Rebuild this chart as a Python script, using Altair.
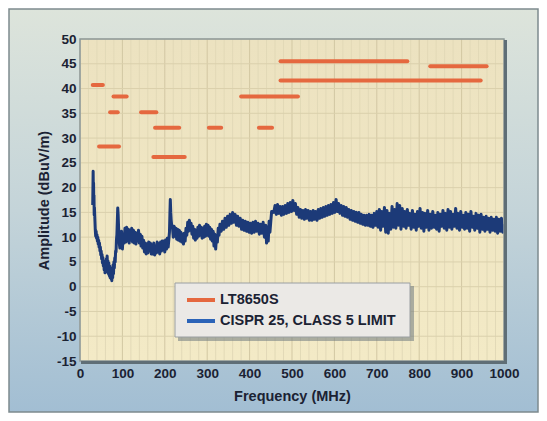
import altair as alt
import pandas as pd

# ---------------- data ----------------
series_names = ["LT8650S", "CISPR 25, CLASS 5 LIMIT"]

# orange horizontal segments (MHz start, MHz end, dBuV/m)
seg_start = [30, 45, 79, 71, 144, 177, 173, 304, 422, 380, 473, 473, 826]
seg_end   = [54, 92, 110, 89, 180, 234, 247, 333, 453, 514, 772, 945, 959]
seg_level = [40.7, 28.3, 38.4, 35.2, 35.2, 32.1, 26.2, 32.1, 32.1, 38.4, 45.5, 41.6, 44.5]

# blue measured trace (MHz, dBuV/m)
trace_f = [
    30, 31, 31.5, 32, 32.5, 33, 33.5, 34, 35,
    36, 37, 38, 39, 40, 41, 42, 43, 44, 45, 46, 47, 48, 49, 50, 51, 52, 53, 54, 55,
    56, 57, 58, 59, 60, 61, 62, 63, 64, 65, 66, 67, 68, 69, 70, 71, 72, 73, 74, 75,
    76, 77, 78, 79, 80, 81, 82, 83, 84, 85, 86, 87, 88, 89, 90, 91, 92, 93, 94, 95,
    96, 98, 100, 102, 104, 106, 108, 110, 112, 114, 116, 118, 120, 122, 124, 126, 128,
    130, 132, 134, 136, 138, 140, 142, 144, 146, 148, 150,
    152, 154, 156, 158, 160, 162, 164, 166, 168, 170, 172, 174, 176, 178, 180, 182,
    184, 186, 188, 190, 192, 194, 196, 198, 200, 202, 204, 206, 208, 210,
    211, 212, 213, 214, 215, 216,
    218, 220, 222, 224, 226, 228, 230, 232, 234, 236, 238, 240, 242, 244, 246, 248,
    250, 252, 254, 256, 258, 260, 262, 264, 266, 268, 270, 272, 274, 276, 278, 280,
    282, 284, 286, 288, 290, 292, 294, 296, 298, 300, 302, 304, 306, 308, 310, 312,
    314, 316, 318, 320, 322, 324, 326, 328, 330,
    333, 336, 339, 342, 345, 348, 351, 354, 357, 360, 363, 366, 369, 372, 375, 378,
    381, 384, 387, 390, 393, 396, 399, 402, 405, 408, 411, 414, 417, 420, 423, 426,
    429, 432, 435, 438, 440, 442, 444, 446, 448,
    450, 452, 454, 457, 460, 463, 466, 469, 472, 475, 478, 481, 484, 487, 490, 493,
    496, 499, 502, 505, 508, 511, 514, 517,
    520, 523, 526, 529, 532, 535, 538, 541, 544, 547, 550, 553, 556, 559, 562, 565,
    568, 571, 574, 577, 580, 583, 586, 589, 592, 595, 598, 601, 604, 607, 610, 613,
    616, 619, 622, 625, 628, 631, 634, 637, 640, 643, 646, 649, 652, 655, 658, 661,
    664, 667, 670, 673, 676, 679, 682, 685, 688, 691, 694, 697, 700,
    703, 706, 709, 712, 715, 718, 721, 724, 727, 730, 733, 736, 739, 742, 745, 748,
    751, 754, 757, 760, 763, 766, 769, 772, 775, 778, 781, 784, 787, 790, 793, 796,
    799, 802, 805, 808, 811, 814, 817, 820, 823, 826, 829, 832, 835, 838, 841, 844,
    847, 850, 853, 856, 859, 862, 865, 868, 871, 874, 877, 880, 883, 886, 889, 892,
    895, 898, 901, 904, 907, 910, 913, 916, 919, 922, 925, 928, 931, 934, 937, 940,
    943, 946, 949, 952, 955, 958, 961, 964, 967, 970, 973, 976, 979, 982, 985, 988,
    991, 994, 997, 1000,
]
trace_v = [
    16.5, 23.3, 19.0, 21.0, 17.5, 18.5, 14.5, 16.0, 13.8,
    11.5, 10.2, 11.2, 9.8, 10.5, 9.2, 10.0, 8.6, 9.4, 8.0, 8.8, 7.2, 8.0, 6.4, 7.2, 5.6, 6.5, 4.8, 5.9, 4.2,
    5.2, 3.4, 4.6, 2.8, 4.4, 3.2, 5.6, 3.0, 6.2, 4.0, 5.2, 2.6, 4.8, 2.2, 4.2, 1.8, 3.8, 1.6, 3.6, 1.2,
    3.4, 1.8, 4.4, 2.6, 5.0, 3.8, 5.8, 5.0, 7.2, 7.0, 9.5, 10.5, 13.2, 15.9, 14.5, 12.0, 10.0, 8.5, 7.8, 9.5,
    8.0, 11.2, 7.6, 10.6, 8.8, 11.8, 9.0, 12.0, 9.2, 11.6, 8.8, 11.4, 9.4, 11.8, 9.0, 11.4, 8.8,
    11.0, 8.6, 10.8, 9.2, 11.4, 8.8, 10.6, 8.2, 10.2, 7.8, 9.4,
    7.0, 8.8, 6.6, 8.6, 6.8, 9.0, 7.2, 8.8, 6.6, 8.4, 6.6, 8.8, 6.4, 8.2, 6.8, 9.0,
    7.0, 8.6, 6.6, 9.0, 7.2, 9.2, 7.4, 9.2, 7.0, 9.4, 7.6, 9.8, 8.0, 10.0,
    11.0, 14.5, 17.6, 15.0, 13.5, 12.6,
    12.0, 10.0, 12.2, 10.2, 11.8, 9.6, 11.6, 9.4, 11.4, 9.2, 11.0, 9.0, 10.6, 8.6, 10.8, 9.2,
    11.8, 10.4, 13.0, 11.2, 13.4, 11.4, 12.8, 10.6, 12.2, 9.8, 11.6, 9.4, 11.4, 9.8, 12.0, 10.2,
    12.4, 10.4, 12.0, 9.8, 11.8, 10.0, 12.2, 10.2, 12.6, 10.4, 12.4, 10.2, 12.0, 9.6, 11.6, 9.2,
    11.2, 8.2, 10.6, 7.6, 10.2, 9.0, 11.8, 10.4, 12.6,
    11.2, 13.2, 11.6, 13.8, 12.0, 14.2, 12.4, 14.6, 12.8, 15.0, 13.0, 14.6, 12.4, 14.2, 12.2, 13.8,
    11.6, 13.4, 11.4, 13.2, 11.2, 13.0, 11.0, 12.8, 10.8, 13.0, 11.0, 13.2, 11.2, 12.8, 10.6, 12.6,
    10.8, 13.0, 10.0, 12.4, 8.8, 12.0, 9.2, 13.2, 11.0,
    13.2, 15.2, 15.2, 15.0, 16.4, 14.6, 16.6, 14.8, 16.2, 14.4, 16.2, 14.6, 16.4, 14.8, 16.8, 15.0,
    17.0, 15.2, 17.4, 15.4, 16.8, 14.6, 16.0, 14.0,
    15.6, 13.8, 15.4, 13.6, 15.6, 13.8, 15.4, 13.4, 15.2, 13.4, 15.4, 13.6, 15.2, 13.4, 15.6, 13.8,
    15.8, 14.0, 16.0, 14.2, 16.2, 14.4, 16.4, 14.6, 16.6, 14.8, 17.0, 15.0, 17.6, 15.2, 16.8, 14.8,
    16.4, 14.4, 16.2, 14.2, 16.0, 14.0, 15.6, 13.6, 15.4, 13.4, 15.2, 13.2, 15.0, 13.0, 15.0, 12.8,
    14.6, 12.6, 14.4, 12.4, 14.4, 12.4, 14.6, 12.2, 14.4, 12.0, 14.8, 12.4, 15.2,
    12.0, 15.6, 11.4, 15.2, 12.2, 16.0, 11.0, 15.4, 10.8, 14.8, 11.6, 16.2, 12.0, 15.6, 11.8, 16.8,
    12.4, 16.4, 11.6, 15.8, 12.2, 15.2, 11.8, 15.6, 12.4, 14.8, 11.6, 15.4, 12.0, 14.6, 11.4, 15.2,
    12.2, 15.8, 11.8, 15.0, 11.2, 14.8, 12.0, 15.4, 11.4, 14.6, 11.8, 15.2, 12.0, 14.4, 11.6, 15.0,
    11.2, 14.6, 12.2, 15.4, 11.8, 14.8, 11.4, 15.6, 12.0, 15.2, 11.6, 14.6, 12.2, 15.8, 11.8, 14.8,
    11.4, 15.2, 12.0, 14.4, 11.6, 15.0, 11.8, 14.6, 11.2, 15.2, 12.0, 14.2, 11.4, 14.8, 11.8, 14.4,
    11.0, 14.6, 11.6, 14.0, 11.2, 14.2, 11.6, 13.8, 11.0, 14.0, 11.4, 13.6, 11.2, 14.0, 10.8, 13.6,
    11.2, 13.8, 11.0, 12.6,
]

x_ticks = [0, 100, 200, 300, 400, 500, 600, 700, 800, 900, 1000]
y_ticks = [-15, -10, -5, 0, 5, 10, 15, 20, 25, 30, 35, 40, 45, 50]
x_grid = list(range(0, 1001, 20))
y_grid = list(range(-15, 51, 5))

# ---------------- layout ----------------
W, H = 424, 322
PL, PT, PR, PB = 72, 31, 35, 52
FONT = "Liberation Sans, Arial, Helvetica, sans-serif"
TXT = "#1b2233"
ORANGE = "#e5683f"
BLUE = "#1c3a78"
LEG_BLUE = "#2b63b8"

# legend box geometry (pixels, relative to the plot area)
LX0, LX1, LY0, LY1 = 95, 330, 244, 298

seg_df = pd.DataFrame({"start": seg_start, "end": seg_end, "level": seg_level})
trace_df = pd.DataFrame({"f": trace_f, "v": trace_v})
xg_df = pd.DataFrame({"g": x_grid, "major": [g % 100 == 0 for g in x_grid]})
yg_df = pd.DataFrame({"g": y_grid})
one = alt.Data(values=[{}])

xs = alt.Scale(domain=[0, 1000], nice=False, zero=False)
ys = alt.Scale(domain=[-15, 50], nice=False, zero=False)
x_axis = alt.Axis(values=x_ticks, zindex=2, labelOverlap=False, labelFlush=False,
                  labelExpr="'' + datum.value")
y_axis = alt.Axis(values=y_ticks, zindex=2, labelOverlap=False, labelFlush=False,
                  labelExpr="'' + datum.value")
XT = "Frequency (MHz)"
YT = "Amplitude (dBuV/m)"

bg = alt.Chart(one).mark_rect(
    fill=alt.Gradient(gradient="linear", x1=0, y1=0, x2=0, y2=1,
                      stops=[alt.GradientStop(offset=0, color="#dde4db"),
                             alt.GradientStop(offset=0.5, color="#c4d4d9"),
                             alt.GradientStop(offset=1, color="#a2bed3")]),
    stroke="#7d8a8e", strokeWidth=1.5,
).encode(x=alt.value(-PL + 1), x2=alt.value(W + PR - 1),
         y=alt.value(-PT + 1), y2=alt.value(H + PB - 1))

plot_bg = alt.Chart(one).mark_rect(
    fill=alt.Gradient(gradient="linear", x1=0, y1=0, x2=0, y2=1,
                      stops=[alt.GradientStop(offset=0, color="#ece2c0"),
                             alt.GradientStop(offset=1, color="#f3eac6")]),
).encode(x=alt.value(0), x2=alt.value(W), y=alt.value(0), y2=alt.value(H))

vgrid = alt.Chart(xg_df).mark_rule().encode(
    x=alt.X("g:Q", scale=xs, title=XT, axis=x_axis),
    color=alt.condition("datum.major", alt.value("#d2c7a3"), alt.value("#e2d9b7")),
    strokeWidth=alt.value(1),
)
hgrid = alt.Chart(yg_df).mark_rule(color="#dad0ac", strokeWidth=1).encode(
    y=alt.Y("g:Q", scale=ys, title=YT, axis=y_axis),
)

segs = alt.Chart(seg_df).mark_rule(strokeWidth=4, strokeCap="round", color=ORANGE).encode(
    x=alt.X("start:Q", scale=xs, title=XT, axis=x_axis), x2="end:Q",
    y=alt.Y("level:Q", scale=ys, title=YT, axis=y_axis),
)

trace = alt.Chart(trace_df).mark_line(strokeWidth=3, strokeJoin="round", color=BLUE).encode(
    x=alt.X("f:Q", scale=xs, title=XT, axis=x_axis),
    y=alt.Y("v:Q", scale=ys, title=YT, axis=y_axis),
)

frame = alt.Chart(one).mark_rect(filled=False, stroke="#8c989b", strokeWidth=1.5).encode(
    x=alt.value(0), x2=alt.value(W), y=alt.value(0), y2=alt.value(H))
shadow_r = alt.Chart(one).mark_rule(stroke="#5f6e76", strokeWidth=3).encode(
    x=alt.value(W + 1.5), y=alt.value(1), y2=alt.value(H + 3))
shadow_b = alt.Chart(one).mark_rule(stroke="#5f6e76", strokeWidth=3).encode(
    x=alt.value(1), x2=alt.value(W + 3), y=alt.value(H + 1.5))

# legend (drawn by hand to match the boxed legend of the reference)
leg_shadow = alt.Chart(one).mark_rect(fill="#6f7a80", opacity=0.55).encode(
    x=alt.value(LX0 + 3), x2=alt.value(LX1 + 4), y=alt.value(LY0 + 3), y2=alt.value(LY1 + 4))
leg_box = alt.Chart(one).mark_rect(fill="#ebe9e6", stroke="#9a9fa2", strokeWidth=1).encode(
    x=alt.value(LX0), x2=alt.value(LX1), y=alt.value(LY0), y2=alt.value(LY1))
leg_sym1 = alt.Chart(one).mark_rule(color=ORANGE, strokeWidth=4).encode(
    x=alt.value(LX0 + 12), x2=alt.value(LX0 + 40), y=alt.value(LY0 + 17))
leg_sym2 = alt.Chart(one).mark_rule(color=LEG_BLUE, strokeWidth=4).encode(
    x=alt.value(LX0 + 12), x2=alt.value(LX0 + 40), y=alt.value(LY0 + 38))
leg_txt1 = alt.Chart(one).mark_text(
    text=series_names[0], font=FONT, fontSize=14.5, fontWeight="bold", color=TXT,
    align="left", baseline="middle").encode(x=alt.value(LX0 + 45), y=alt.value(LY0 + 17))
leg_txt2 = alt.Chart(one).mark_text(
    text=series_names[1], font=FONT, fontSize=14.5, fontWeight="bold", color=TXT,
    align="left", baseline="middle").encode(x=alt.value(LX0 + 45), y=alt.value(LY0 + 38))

chart = alt.layer(
    bg, plot_bg, vgrid, hgrid, segs, trace, frame, shadow_r, shadow_b,
    leg_shadow, leg_box, leg_sym1, leg_sym2, leg_txt1, leg_txt2,
).properties(
    width=W, height=H,
    autosize=alt.AutoSizeParams(type="none"),
    padding={"left": PL, "top": PT, "right": PR, "bottom": PB},
).configure(background="white").configure_view(stroke=None).configure_axis(
    grid=False, domain=False, ticks=False, labelOverlap=False,
    labelFont=FONT, labelFontWeight="bold", labelColor=TXT, labelFontSize=13.5,
    titleFont=FONT, titleFontWeight="bold", titleColor=TXT, titleFontSize=14.5,
).configure_axisX(labelPadding=5, titlePadding=10).configure_axisY(
    labelPadding=4, titlePadding=5, labelOverlap=False)

chart.save("out.html", embed_options={"renderer": "svg", "actions": False})
